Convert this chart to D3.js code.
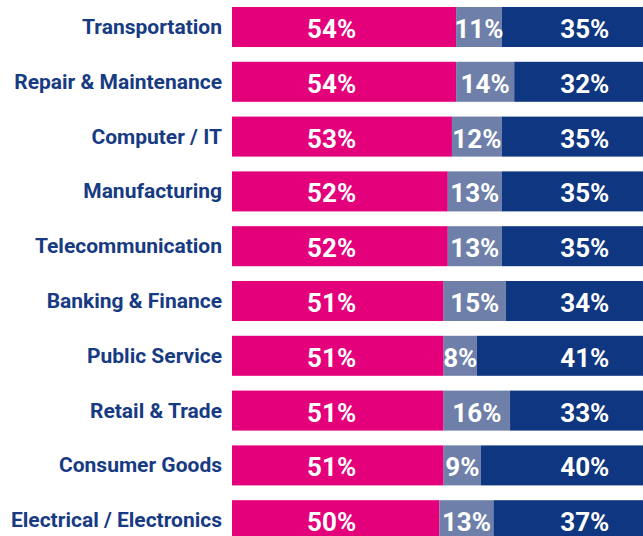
<!DOCTYPE html>
<html>
<head>
<meta charset="utf-8">
<script src="https://cdn.jsdelivr.net/npm/d3@7"></script>
<style>
  html, body { margin: 0; padding: 0; background: #fff; overflow: hidden; }
  svg { display: block; font-family: Roboto, 'Open Sans', sans-serif; }
</style>
</head>
<body>
<div id="chart"></div>
<script>
// Data
const categories = ['Transportation', 'Repair & Maintenance', 'Computer / IT', 'Manufacturing',
    'Telecommunication', 'Banking & Finance', 'Public Service', 'Retail & Trade',
    'Consumer Goods', 'Electrical / Electronics']
const firstValues = [54, 54, 53, 52, 52, 51, 51, 51, 51, 50]
const middleValues = [11, 14, 12, 13, 13, 15, 8, 16, 9, 13]
const lastValues = [35, 32, 35, 35, 35, 34, 41, 33, 40, 37]

// Colors
const firstColor = '#e4007b'
const middleColor = '#6e7fa9'
const lastColor = '#0f3680'
const labelColor = '#173b83'

// Dimensions
const width = 643
const height = 536
const barLeft = 232
const barRight = 647

const svg = d3.select('#chart')
    .append('svg')
    .attr('width', width)
    .attr('height', height)

const x = d3.scaleLinear().domain([0, 100]).range([barLeft, barRight])
const y = d3.scaleBand().domain(categories).range([7, 540.2]).paddingInner(0.27).paddingOuter(0)

const rows = categories.map((c, i) => ({
    cat: c,
    segs: [
        {start: 0, val: firstValues[i], color: firstColor, labelX: x(24)},
        {start: firstValues[i], val: middleValues[i], color: middleColor, labelX: x(firstValues[i] + middleValues[i] / 2)},
        {start: firstValues[i] + middleValues[i], val: lastValues[i], color: lastColor, labelX: x(85)}
    ]
}))

const row = svg.selectAll('g.row')
    .data(rows)
    .join('g')
    .attr('class', 'row')
    .attr('transform', d => `translate(0,${y(d.cat)})`)

row.selectAll('rect')
    .data(d => d.segs)
    .join('rect')
    .attr('x', d => x(d.start))
    .attr('width', d => x(d.start + d.val) - x(d.start))
    .attr('height', y.bandwidth())
    .attr('fill', d => d.color)

row.selectAll('text.val')
    .data(d => d.segs)
    .join('text')
    .attr('class', 'val')
    .attr('x', d => d.labelX)
    .attr('y', y.bandwidth() / 2 + 11)
    .attr('text-anchor', 'middle')
    .attr('fill', '#fff')
    .style('font-size', '26px')
    .style('font-weight', 700)
    .text(d => d.val + '%')

row.append('text')
    .attr('class', 'cat')
    .attr('x', barLeft - 10)
    .attr('y', y.bandwidth() / 2 + 7)
    .attr('text-anchor', 'end')
    .attr('fill', labelColor)
    .style('font-size', '21px')
    .style('font-weight', 700)
    .text(d => d.cat)
</script>
</body>
</html>
